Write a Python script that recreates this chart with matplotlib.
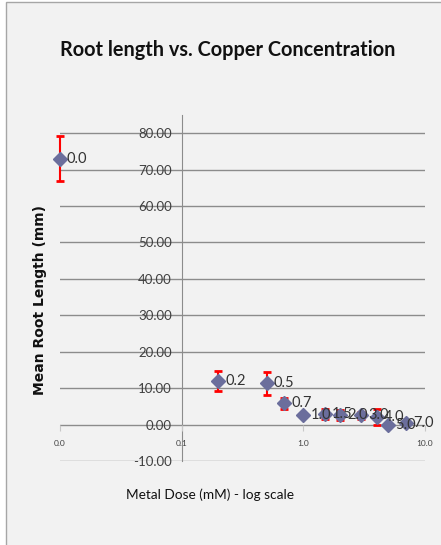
import matplotlib
matplotlib.use("Agg")
import matplotlib.pyplot as plt
from matplotlib.patches import Rectangle

# Dose de cobre (mM) e comprimento médio da raiz (mm)
doses = [0.01, 0.2, 0.5, 0.7, 1.0, 1.5, 2.0, 3.0, 4.0, 5.0, 7.0]
comprimento = [73.0, 12.0, 11.3, 5.9, 2.5, 3.0, 2.6, 2.5, 2.1, 0.0, 0.3]
erro = [6.2, 2.7, 3.2, 1.5, 0.3, 1.4, 1.4, 1.0, 2.1, 0.3, 0.4]

y_ticks = [-10, 0, 10, 20, 30, 40, 50, 60, 70, 80]
x_ticks = [0.01, 0.1, 1.0, 10.0]
x_tick_labels = ["0.0", "0.1", "1.0", "10.0"]

W, H = 441, 545
fig = plt.figure(figsize=(W / 100, H / 100), dpi=100)
fig.patch.set_facecolor("white")

# moldura cinza da área do gráfico
fig.patches.append(Rectangle((6 / W, -0.05), 1.0, 1 - 2 / H + 0.05,
                             transform=fig.transFigure, facecolor="#f2f2f2",
                             edgecolor="#a6a6a6", lw=1.0, zorder=-1))

ax = fig.add_axes([60 / W, 1 - 461 / H, 365 / W, 346 / H])
ax.set_facecolor("none")
ax.set_xscale("log")
ax.set_xlim(0.01, 10)
ax.set_ylim(-10, 85)

for y in y_ticks:
    ax.axhline(y, color="#8c8c8c", lw=1.0, zorder=1)

# eixo vertical cruza em x = 0.1, eixo horizontal em y = 0
for s in ["top", "right", "bottom"]:
    ax.spines[s].set_visible(False)
ax.spines["left"].set_position(("data", 0.1))
ax.spines["bottom"].set_position(("data", 0))
ax.spines["left"].set_color("#8c8c8c")
ax.spines["left"].set_zorder(1)

ax.set_yticks(y_ticks)
ax.set_yticklabels([f"{v:.2f}" for v in y_ticks], fontfamily="Lato",
                   fontsize=9.5, color="#404040")
ax.tick_params(axis="y", length=0, pad=7)

ax.set_xticks(x_ticks)
ax.set_xticks([], minor=True)
ax.set_xticklabels(x_tick_labels, fontfamily="Lato", fontsize=6, color="#404040")
ax.tick_params(axis="x", which="major", length=4, color="#c8c8c8", pad=7)

ax.errorbar(doses, comprimento, yerr=erro, fmt="none", ecolor="#ff0000",
            elinewidth=1.5, capsize=3, capthick=2, zorder=3, clip_on=False)
ax.plot(doses, comprimento, linestyle="none", marker="D", markersize=7,
        color="#6b6e9c", zorder=4, clip_on=False)

for d, c in zip(doses, comprimento):
    ax.annotate(f"{d:.1f}", (d, c), xytext=(5, 0), textcoords="offset points",
                va="center", ha="left", fontfamily="Lato", fontsize=10.5,
                color="#333333", zorder=5)

fig.text(228 / W, 1 - 50 / H, "Root length vs. Copper Concentration",
         ha="center", va="center", fontfamily="Lato",
         fontweight="bold", fontsize=14.3, color="#111111")
fig.text(40 / W, 1 - 300 / H, "Mean Root Length (mm)", rotation=90,
         ha="center", va="center", fontfamily="DejaVu Sans", fontweight="bold",
         fontsize=10, color="#111111")
fig.text(210 / W, 1 - 495 / H, "Metal Dose (mM) - log scale",
         ha="center", va="center", fontfamily="Lato", fontsize=9.8,
         color="#111111")

fig.savefig("out.png", dpi=100)
